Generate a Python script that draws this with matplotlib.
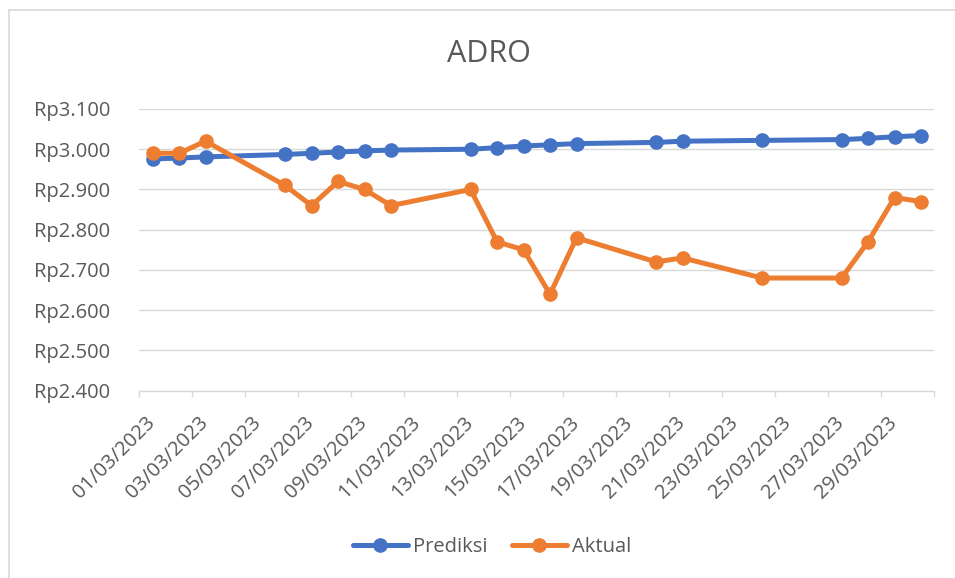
import datetime as dt
import matplotlib
matplotlib.use("Agg")
import matplotlib.pyplot as plt
import matplotlib.dates as mdates
from matplotlib.patches import Rectangle
from matplotlib.ticker import FuncFormatter

# ---------------- data ----------------
tanggal = [1, 2, 3, 6, 7, 8, 9, 10, 13, 14, 15, 16, 17, 20, 21, 24, 27, 28, 29, 30]
prediksi = [2976, 2978, 2981, 2987, 2990, 2993, 2996, 2998, 3000, 3004,
            3008, 3011, 3014, 3017, 3020, 3022, 3024, 3027, 3031, 3034]
aktual = [2990, 2990, 3020, 2910, 2860, 2920, 2900, 2860, 2900, 2770,
          2750, 2640, 2780, 2720, 2730, 2680, 2680, 2770, 2880, 2870]
y_ticks = [2400, 2500, 2600, 2700, 2800, 2900, 3000, 3100]

dates = [dt.datetime(2023, 3, d) for d in tanggal]

# ---------------- style ----------------
plt.rcParams['font.family'] = ['Open Sans', 'DejaVu Sans']
txt_col = '#595959'
grid_col = '#d9d9d9'
blue = '#4472C4'
orange = '#ED7D31'

fig = plt.figure(figsize=(9.55, 5.78), dpi=100)
ax = fig.add_axes([139.3 / 955, 1 - 390.7 / 578, 795 / 955, 281.7 / 578])

ax.plot(dates, prediksi, color=blue, lw=3.6, marker='o', ms=9.5, label='Prediksi',
        solid_capstyle='round', zorder=3)
ax.plot(dates, aktual, color=orange, lw=3.6, marker='o', ms=9.5, label='Aktual',
        solid_capstyle='round', zorder=4)

# y axis
ax.set_ylim(2400, 3100)
ax.set_yticks(y_ticks)
ax.yaxis.set_major_formatter(FuncFormatter(lambda v, p: 'Rp' + f'{int(v):,}'.replace(',', '.')))
ax.yaxis.grid(True, color=grid_col, lw=1.0)
ax.set_axisbelow(True)
ax.tick_params(axis='y', length=0, pad=21, labelsize=14.5, labelcolor=txt_col)

# x axis: date slots, labels every 2 days, tick marks at slot borders
start = dt.datetime(2023, 3, 1) - dt.timedelta(hours=12)
end = dt.datetime(2023, 3, 31) - dt.timedelta(hours=12)
ax.set_xlim(start, end)
label_days = [dt.datetime(2023, 3, d) for d in range(1, 30, 2)]
border_days = [dt.datetime(2023, 3, d) - dt.timedelta(hours=12) for d in range(1, 32, 2)]
ax.set_xticks(label_days)
ax.set_xticks(border_days, minor=True)
ax.xaxis.set_major_formatter(mdates.DateFormatter('%d/%m/%Y'))
ax.tick_params(axis='x', which='major', length=0, pad=21, labelsize=14.5, labelcolor=txt_col)
ax.tick_params(axis='x', which='minor', length=4.5, width=1.0, color=grid_col)
for lbl in ax.get_xticklabels():
    lbl.set_rotation(45)
    lbl.set_rotation_mode('anchor')
    lbl.set_ha('right')
    lbl.set_va('center')

for side in ['top', 'right', 'left']:
    ax.spines[side].set_visible(False)
ax.spines['bottom'].set_color(grid_col)
ax.spines['bottom'].set_linewidth(1.0)

# title
fig.text(489 / 955, 1 - 54 / 578, 'ADRO', ha='center', va='center', fontsize=22, color=txt_col)

# legend
fig.legend(loc='center', bbox_to_anchor=(492 / 955, 1 - 547 / 578), ncol=2, frameon=False,
           fontsize=14.5, labelcolor=txt_col, handlelength=2.75, handletextpad=0.25,
           columnspacing=1.2)

# chart border (only left and top visible in the reference)
fig.patches.append(Rectangle((8.5 / 955, -0.1), 2, 1.1 - 10 / 578, transform=fig.transFigure,
                             fill=False, edgecolor=grid_col, lw=1.2))

fig.savefig('out.png', dpi=100)
